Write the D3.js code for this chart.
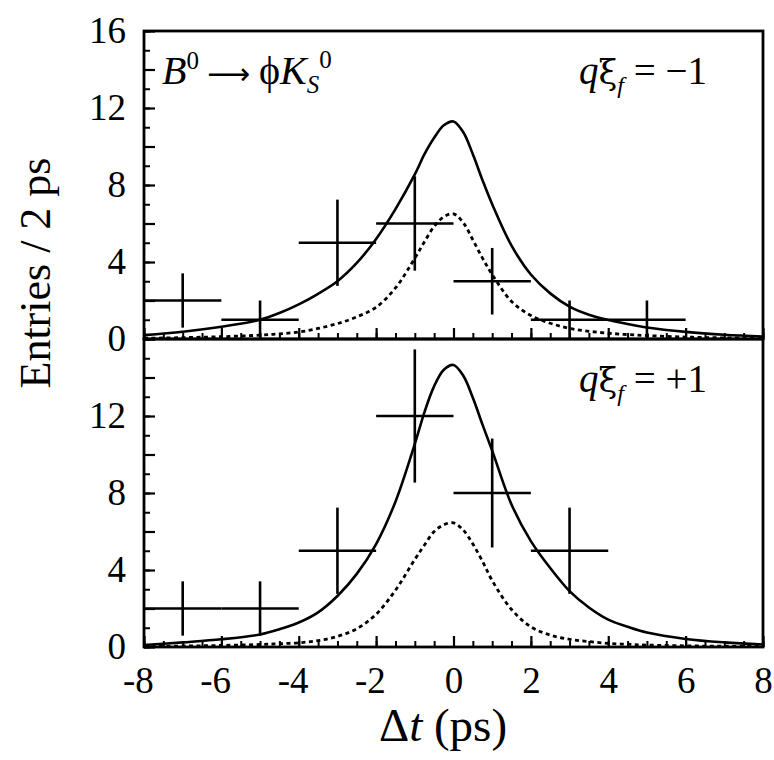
<!DOCTYPE html>
<html>
<head>
<meta charset="utf-8">
<script src="https://cdn.jsdelivr.net/npm/d3@7"></script>
<style>
  body { margin: 0; background: #fff; }
  svg { display: block; }
  text { font-family: "Liberation Serif", "Times New Roman", serif; fill: #000; }
</style>
</head>
<body>
<svg id="chart" width="774" height="760"></svg>
<script>
// ---- data ----
const binCentersTop = [-7, -5, -3, -1, 1, 3, 5];
const countsTop     = [2, 1, 5, 6, 3, 1, 1];
const errorsTop     = [1.41, 1, 2.24, 2.45, 1.73, 1, 1];

const binCentersBottom = [-7, -5, -3, -1, 1, 3];
const countsBottom     = [2, 2, 5, 12, 8, 5];
const errorsBottom     = [1.41, 1.41, 2.24, 3.46, 2.83, 2.24];

const binHalfWidth = 1;

const curveDt      = [-8, -7, -6, -5, -4.5, -4, -3.5, -3, -2.5, -2, -1.5, -1, -0.75, -0.5, -0.25, 0, 0.25, 0.5, 0.75, 1, 1.5, 2, 2.5, 3, 3.5, 4, 4.5, 5, 6, 7, 8];
const fitTop       = [0.2, 0.38, 0.64, 1.0, 1.35, 1.8, 2.35, 3.0, 3.95, 5.2, 6.75, 8.55, 9.6, 10.45, 11.1, 11.3, 10.75, 9.6, 8.25, 7.0, 4.85, 3.35, 2.37, 1.68, 1.26, 0.99, 0.78, 0.6, 0.37, 0.22, 0.13];
const signalTop    = [0.04, 0.07, 0.12, 0.2, 0.27, 0.36, 0.55, 0.8, 1.15, 1.65, 2.65, 4.2, 5.05, 5.85, 6.35, 6.5, 6.05, 5.15, 4.2, 3.35, 1.95, 1.22, 0.82, 0.55, 0.4, 0.3, 0.23, 0.18, 0.1, 0.06, 0.04];
const fitBottom    = [0.1, 0.24, 0.4, 0.65, 0.92, 1.27, 1.8, 2.65, 3.8, 5.35, 7.55, 10.55, 12.2, 13.55, 14.4, 14.65, 14.1, 12.95, 11.55, 10.2, 7.4, 5.5, 4.1, 2.9, 2.05, 1.42, 1.05, 0.75, 0.42, 0.24, 0.13];
const signalBottom = [0.03, 0.05, 0.08, 0.13, 0.17, 0.22, 0.33, 0.55, 0.95, 1.7, 2.95, 4.55, 5.3, 6.0, 6.35, 6.45, 6.08, 5.35, 4.45, 3.45, 1.95, 1.05, 0.62, 0.4, 0.28, 0.19, 0.14, 0.1, 0.06, 0.04, 0.03];

const xMajorTicks = [-8, -6, -4, -2, 0, 2, 4, 6, 8];
const xMinorTicks = d3.range(-8, 8.01, 0.5);
const yLabelsTop = [0, 4, 8, 12, 16];
const yLabelsBottom = [0, 4, 8, 12];
const yMajorTicks = [0, 2, 4, 6, 8, 10, 12, 14, 16];
const yMinorTicks = d3.range(0, 16.01, 1);

const xDomain = [-8, 8];
const yDomain = [0, 16];

// ---- layout ----
const L = 144, R = 763, T = 31, M = 339, B = 647;
const tickFont = 37;
const svg = d3.select("#chart");

const x = d3.scaleLinear().domain(xDomain).range([L, R]);
const yTop = d3.scaleLinear().domain(yDomain).range([M, T]);
const yBot = d3.scaleLinear().domain(yDomain).range([B, M]);

const defs = svg.append("defs");
defs.append("clipPath").attr("id", "clipTop")
  .append("rect").attr("x", L).attr("y", T).attr("width", R - L).attr("height", M - T);
defs.append("clipPath").attr("id", "clipBot")
  .append("rect").attr("x", L).attr("y", M).attr("width", R - L).attr("height", B - M);

function drawPanel(y, clipId, centers, counts, errors, fit, signal, yLabels, showXLabels) {
  const bottom = y(0);
  // minor x ticks
  svg.append("g").attr("transform", `translate(0,${bottom})`)
    .call(d3.axisBottom(x).tickValues(xMinorTicks).tickSizeInner(-6).tickSizeOuter(0).tickFormat(""))
    .call(g => g.select(".domain").remove())
    .call(g => g.selectAll("line").attr("stroke-width", 2));
  // major x ticks
  svg.append("g").attr("transform", `translate(0,${bottom})`)
    .call(d3.axisBottom(x).tickValues(xMajorTicks).tickSizeInner(-11).tickSizeOuter(0).tickFormat(""))
    .call(g => g.select(".domain").remove())
    .call(g => g.selectAll("line").attr("stroke-width", 2.2));
  if (showXLabels) {
    // digits centred on the tick, minus sign hanging to the left
    const xa = svg.append("g").attr("transform", `translate(0,${bottom})`)
      .call(d3.axisBottom(x).tickValues(xMajorTicks).tickSize(0).tickPadding(0).tickFormat(d => String(d)))
      .call(g => g.select(".domain").remove());
    xa.selectAll("text")
      .attr("font-size", tickFont).attr("font-family", "Liberation Serif").attr("fill", "#000")
      .attr("text-anchor", "end").attr("x", tickFont * 0.25).attr("y", 46).attr("dy", null);
  }

  // minor y ticks
  svg.append("g").attr("transform", `translate(${L},0)`)
    .call(d3.axisLeft(y).tickValues(yMinorTicks).tickSizeInner(-6).tickSizeOuter(0).tickFormat(""))
    .call(g => g.select(".domain").remove())
    .call(g => g.selectAll("line").attr("stroke-width", 2));
  // major y ticks
  svg.append("g").attr("transform", `translate(${L},0)`)
    .call(d3.axisLeft(y).tickValues(yMajorTicks).tickSizeInner(-11).tickSizeOuter(0).tickFormat(""))
    .call(g => g.select(".domain").remove())
    .call(g => g.selectAll("line").attr("stroke-width", 2.2));
  // y labels
  const ya = svg.append("g").attr("transform", `translate(${L},0)`)
    .call(d3.axisLeft(y).tickValues(yLabels).tickSize(0).tickPadding(18).tickFormat(d3.format("d")))
    .call(g => g.select(".domain").remove());
  ya.selectAll("text").attr("font-size", tickFont).attr("font-family", "Liberation Serif").attr("fill", "#000");

  const g = svg.append("g").attr("clip-path", `url(#${clipId})`);
  const line = d3.line().x((d, i) => x(curveDt[i])).y(d => y(d)).curve(d3.curveCatmullRom.alpha(0.5));
  g.append("path").datum(signal).attr("d", line).attr("fill", "none")
    .attr("stroke", "#000").attr("stroke-width", 2.8).attr("stroke-dasharray", "4,3.5");
  g.append("path").datum(fit).attr("d", line).attr("fill", "none")
    .attr("stroke", "#000").attr("stroke-width", 2.6);

  // data points with error bars
  const pts = g.selectAll("g.pt").data(centers.map((c, i) => ({c, n: counts[i], e: errors[i]})))
    .join("g").attr("class", "pt");
  pts.append("line")
    .attr("x1", d => x(d.c - binHalfWidth)).attr("x2", d => x(d.c + binHalfWidth))
    .attr("y1", d => y(d.n)).attr("y2", d => y(d.n))
    .attr("stroke", "#000").attr("stroke-width", 2.6);
  pts.append("line")
    .attr("x1", d => x(d.c)).attr("x2", d => x(d.c))
    .attr("y1", d => y(Math.max(0, d.n - d.e))).attr("y2", d => y(d.n + d.e))
    .attr("stroke", "#000").attr("stroke-width", 2.6);
}

drawPanel(yTop, "clipTop", binCentersTop, countsTop, errorsTop, fitTop, signalTop, yLabelsTop, false);
drawPanel(yBot, "clipBot", binCentersBottom, countsBottom, errorsBottom, fitBottom, signalBottom, yLabelsBottom, true);

// frames
svg.append("rect").attr("x", L).attr("y", T).attr("width", R - L).attr("height", M - T)
  .attr("fill", "none").attr("stroke", "#000").attr("stroke-width", 2.8);
svg.append("rect").attr("x", L).attr("y", M).attr("width", R - L).attr("height", B - M)
  .attr("fill", "none").attr("stroke", "#000").attr("stroke-width", 2.8);

// axis titles
svg.append("text").attr("transform", "translate(50,273) rotate(-90)")
  .attr("text-anchor", "middle").attr("font-size", 44).text("Entries / 2 ps");

const xt = svg.append("text").attr("x", 443).attr("y", 741)
  .attr("text-anchor", "middle").attr("font-size", 47);
xt.append("tspan").text("Δ");
xt.append("tspan").attr("font-style", "italic").text("t");
xt.append("tspan").text(" (ps)");

// panel labels
const decay = svg.append("text").attr("x", 162).attr("y", 84).attr("font-size", 40);
decay.append("tspan").attr("font-style", "italic").text("B");
decay.append("tspan").attr("font-size", 25).attr("dy", -15).text("0");
decay.append("tspan").attr("dy", 15).attr("dx", 8).attr("font-family", "DejaVu Sans").attr("font-size", 30).text("⟶");
decay.append("tspan").attr("dx", 9).text("ϕ");
decay.append("tspan").attr("font-style", "italic").text("K");
decay.append("tspan").attr("font-style", "italic").attr("font-size", 25).attr("dy", 9).text("S");
decay.append("tspan").attr("font-size", 25).attr("dy", -25).text("0");

function tagLabel(yBase, sign) {
  const t = svg.append("text").attr("x", 707).attr("y", yBase).attr("text-anchor", "end").attr("font-size", 39);
  t.append("tspan").attr("font-style", "italic").text("q");
  t.append("tspan").attr("font-family", "DejaVu Serif").attr("font-size", 34).text("ξ");
  t.append("tspan").attr("font-style", "italic").attr("font-size", 24).attr("dy", 9).text("f");
  t.append("tspan").attr("dy", -9).text(" = " + sign + "1");
}
tagLabel(84, "−");
tagLabel(392, "+");
</script>
</body>
</html>
